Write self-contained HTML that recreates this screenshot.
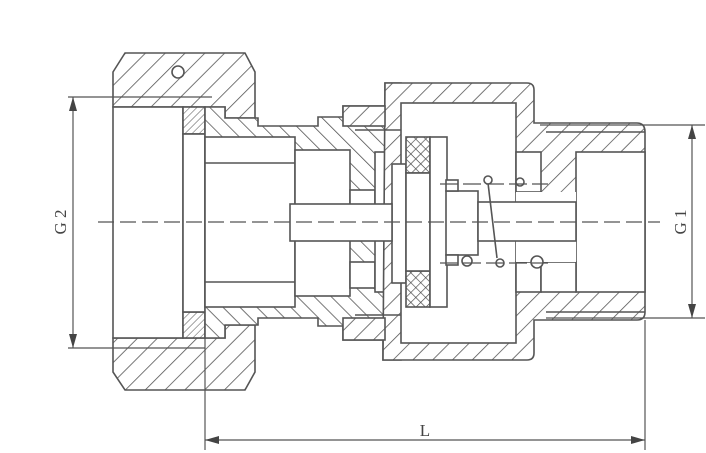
<!DOCTYPE html>
<html><head><meta charset="utf-8"><style>html,body{margin:0;padding:0;background:#fff}svg{display:block}</style></head><body>
<svg width="706" height="453" viewBox="0 0 706 453" xmlns="http://www.w3.org/2000/svg">
<defs>
<pattern id="h" width="14" height="14" patternUnits="userSpaceOnUse" patternTransform="rotate(45)"><rect width="14" height="14" fill="#fff"/><line x1="0" y1="0" x2="0" y2="14" stroke="#555" stroke-width="1.6"/></pattern>
<pattern id="h2" width="12" height="12" patternUnits="userSpaceOnUse" patternTransform="rotate(-45)"><rect width="12" height="12" fill="#fff"/><line x1="0" y1="0" x2="0" y2="12" stroke="#555" stroke-width="1.6"/></pattern>
<pattern id="f" width="5" height="5" patternUnits="userSpaceOnUse" patternTransform="rotate(45)"><rect width="5" height="5" fill="#fff"/><line x1="0" y1="0" x2="0" y2="5" stroke="#555" stroke-width="1"/></pattern>
<pattern id="x" width="7" height="7" patternUnits="userSpaceOnUse" patternTransform="rotate(45)"><rect width="7" height="7" fill="#fff"/><line x1="0" y1="0" x2="0" y2="7" stroke="#444" stroke-width="1.3"/><line x1="0" y1="0" x2="7" y2="0" stroke="#444" stroke-width="1.3"/></pattern>
</defs>
<g stroke="#555" stroke-width="1.6" fill="none">
<!-- nut -->
<polygon points="113,72 125,53 245,53 255,72 255,118 225,118 225,107 183,107 113,107" fill="url(#h)"/>
<polygon points="113,372 125,390 245,390 255,372 255,325 225,325 225,338 183,338 113,338" fill="url(#h)"/>
<circle cx="178" cy="72" r="6" fill="#fff"/>
<rect x="113" y="107" width="70" height="231" fill="#fff"/>
<rect x="183" y="107" width="22" height="27" fill="url(#f)"/>
<rect x="183" y="312" width="22" height="26" fill="url(#f)"/>
<rect x="183" y="134" width="22" height="178" fill="#fff"/>
<!-- left body -->
<polygon points="205,107 225,107 225,118 258,118 258,126 318,126 318,117 343,117 343,106 385,106 385,83 401,83 401,137 392,137 392,307 401,307 401,360 383,360 383,340 343,340 343,326 318,326 318,318 258,318 258,325 225,325 225,338 205,338" fill="url(#h2)"/>
<rect x="205" y="137" width="90" height="170" fill="#fff"/>
<line x1="205" y1="163" x2="295" y2="163"/><line x1="205" y1="282" x2="295" y2="282"/>
<rect x="295" y="150" width="55" height="146" fill="#fff"/>
<rect x="350" y="190" width="25" height="40" fill="#fff"/>
<rect x="350" y="262" width="25" height="26" fill="#fff"/>
<rect x="375" y="152" width="17" height="140" fill="#fff"/>
<!-- housing -->
<path d="M385,83 H527 Q534,83 534,90 V123 H637 Q645,123 645,132 V312 Q645,320 637,320 H534 V353 Q534,360 527,360 H383 Z" fill="url(#h)"/>
<rect x="401" y="103" width="115" height="240" fill="#fff"/>
<rect x="343" y="106" width="42" height="20" fill="url(#h)"/>
<rect x="343" y="318" width="42" height="22" fill="url(#h)"/>
<line x1="355" y1="130" x2="401" y2="130"/><line x1="355" y1="315" x2="401" y2="315"/>
<rect x="576" y="152" width="69" height="140" fill="#fff"/>
<rect x="516" y="152" width="25" height="40" fill="#fff"/>
<rect x="516" y="262" width="25" height="30" fill="#fff"/>
<rect x="541" y="262" width="35" height="30" fill="#fff"/>
<rect x="516" y="192" width="60" height="70" fill="#fff" stroke="none"/>
<line x1="546" y1="132" x2="645" y2="132"/><line x1="546" y1="312" x2="645" y2="312"/>
<!-- internals -->
<rect x="392" y="164" width="14" height="119" fill="#fff"/>
<rect x="406" y="137" width="24" height="36" fill="url(#x)"/>
<rect x="406" y="271" width="24" height="36" fill="url(#x)"/>
<rect x="406" y="173" width="24" height="98" fill="#fff"/>
<rect x="430" y="137" width="17" height="170" fill="#fff"/>
<rect x="290" y="204" width="102" height="37" fill="#fff"/>
<rect x="446" y="191" width="32" height="64" fill="#fff"/>
<rect x="446" y="180" width="12" height="11" fill="#fff"/>
<rect x="446" y="255" width="12" height="10" fill="#fff"/>
<rect x="478" y="202" width="98" height="39" fill="#fff"/>
<line x1="488" y1="183" x2="497" y2="258"/>
<circle cx="488" cy="180" r="4" fill="#fff"/><circle cx="520" cy="182" r="4" fill="#fff"/>
<circle cx="467" cy="261" r="5" fill="#fff"/><circle cx="500" cy="263" r="4" fill="#fff"/><circle cx="537" cy="262" r="6" fill="#fff"/>
</g>
<g stroke="#555" stroke-width="1.2" fill="none">
<line x1="440" y1="184" x2="548" y2="184" stroke-dasharray="18,5"/>
<line x1="440" y1="263" x2="548" y2="263" stroke-dasharray="18,5"/>
<line x1="98" y1="222" x2="660" y2="222" stroke-dasharray="16,6"/>
<!-- dims -->
<line x1="68" y1="97" x2="212" y2="97"/><line x1="68" y1="348" x2="205" y2="348"/>
<line x1="73" y1="97" x2="73" y2="348"/>
<line x1="540" y1="125" x2="705" y2="125"/><line x1="546" y1="318" x2="705" y2="318"/>
<line x1="692" y1="125" x2="692" y2="318"/>
<line x1="205" y1="338" x2="205" y2="450"/><line x1="645" y1="320" x2="645" y2="450"/>
<line x1="205" y1="440" x2="645" y2="440"/>
</g>
<g fill="#444">
<polygon points="73,97 69,111 77,111"/><polygon points="73,348 69,334 77,334"/>
<polygon points="692,125 688,139 696,139"/><polygon points="692,318 688,304 696,304"/>
<polygon points="205,440 219,436 219,444"/><polygon points="645,440 631,436 631,444"/>
</g>
<g font-family="Liberation Serif, serif" font-size="17" fill="#444">
<text x="66" y="222" transform="rotate(-90 66 222)" text-anchor="middle">G 2</text>
<text x="686" y="222" transform="rotate(-90 686 222)" text-anchor="middle">G 1</text>
<text x="425" y="436" text-anchor="middle">L</text>
</g>
</svg>
</body></html>
